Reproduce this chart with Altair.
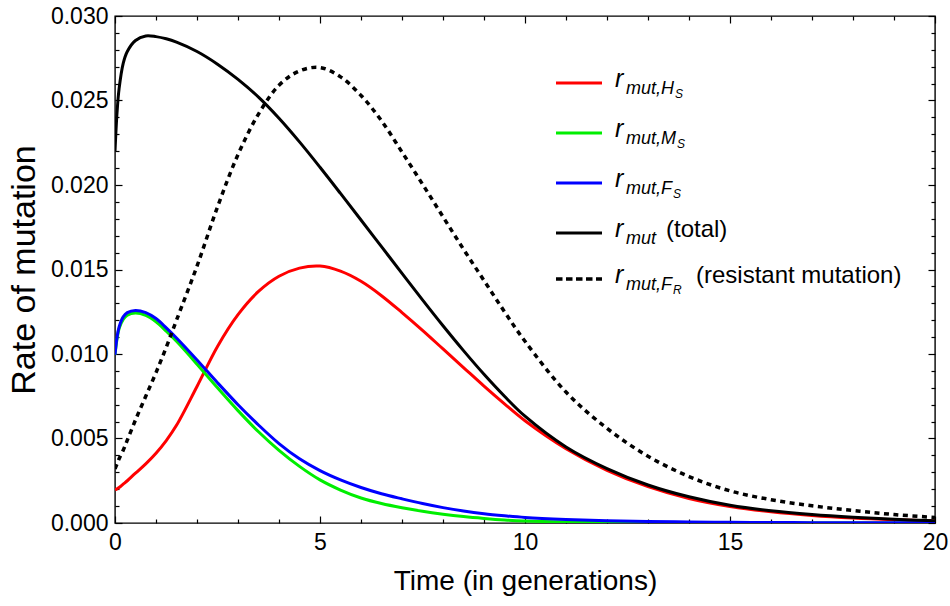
import altair as alt
import pandas as pd

# ---------------- data ----------------
t_vals = [0, 0.05, 0.1, 0.2, 0.3, 0.5, 0.75, 1, 1.25, 1.5,
          2, 2.5, 3, 3.5, 4, 4.5, 5, 5.5, 6, 6.5,
          7, 7.5, 8, 8.5, 9, 9.5, 10,
          11, 12, 13, 14, 15, 16, 17, 18, 19, 20]

r_mut_HS = [0.00195, 0.00202, 0.00210, 0.00230, 0.00250, 0.00295, 0.00350, 0.00413, 0.00488, 0.00578,
            0.00808, 0.01045, 0.01233, 0.01370, 0.01460, 0.01508, 0.01520, 0.01490, 0.01430, 0.01345,
            0.01245, 0.01140, 0.01030, 0.00920, 0.00810, 0.00705, 0.00605,
            0.00440, 0.00312, 0.00215, 0.00145, 0.00098, 0.00066, 0.00044, 0.00029, 0.00019, 0.00012]

r_mut_MS = [0.00995, 0.01090, 0.01150, 0.01205, 0.01230, 0.01242, 0.01228, 0.01190, 0.01135, 0.01075,
            0.00940, 0.00800, 0.00665, 0.00540, 0.00430, 0.00335, 0.00255, 0.00195, 0.00148, 0.00115,
            0.00090, 0.00069, 0.00052, 0.00038, 0.00027, 0.00018, 0.00012,
            0.00006, 0.000035, 0.00002, 0.00001, 0.000007, 0.000005, 0.000003, 0.000002, 0.000001, 0.000001]

r_mut_FS = [0.00995, 0.01100, 0.01160, 0.01220, 0.01245, 0.01258, 0.01245, 0.01210, 0.01155, 0.01095,
            0.00965, 0.00830, 0.00700, 0.00580, 0.00470, 0.00380, 0.00310, 0.00255, 0.00210, 0.00173,
            0.00143, 0.00115, 0.00091, 0.00071, 0.00055, 0.00043, 0.00033,
            0.00021, 0.00013, 0.00009, 0.00006, 0.00004, 0.00003, 0.00002, 0.000015, 0.00001, 0.00001]

r_mut_total = [0.02200, 0.02430, 0.02570, 0.02720, 0.02790, 0.02855, 0.02882, 0.02878, 0.02865, 0.02845,
               0.02790, 0.02715, 0.02625, 0.02520, 0.02395, 0.02255, 0.02105, 0.01950, 0.01793, 0.01635,
               0.01477, 0.01320, 0.01167, 0.01020, 0.00880, 0.00750, 0.00632,
               0.00450, 0.00322, 0.00225, 0.00155, 0.00105, 0.00072, 0.00050, 0.00034, 0.00022, 0.00014]

r_mut_FR = [0.00320, 0.00350, 0.00380, 0.00430, 0.00490, 0.00610, 0.00750, 0.00890, 0.01040, 0.01200,
            0.01520, 0.01870, 0.02180, 0.02420, 0.02590, 0.02675, 0.02695, 0.02640, 0.02530, 0.02380,
            0.02195, 0.02005, 0.01812, 0.01620, 0.01435, 0.01250, 0.01075,
            0.00775, 0.00560, 0.00395, 0.00275, 0.00190, 0.00138, 0.00102, 0.00074, 0.00050, 0.00033]

x_major = [0, 5, 10, 15, 20]
x_minor = [1, 2, 3, 4, 6, 7, 8, 9, 11, 12, 13, 14, 16, 17, 18, 19]
y_major = [0.000, 0.005, 0.010, 0.015, 0.020, 0.025, 0.030]
y_minor = [0.001, 0.002, 0.003, 0.004, 0.006, 0.007, 0.008, 0.009,
           0.011, 0.012, 0.013, 0.014, 0.016, 0.017, 0.018, 0.019,
           0.021, 0.022, 0.023, 0.024, 0.026, 0.027, 0.028, 0.029]

x_title = "Time (in generations)"
y_title = "Rate of mutation"

legend_main = ["r", "r", "r", "r", "r"]
legend_sub = ["mut,H", "mut,M", "mut,F", "mut", "mut,F"]
legend_subsub = ["S", "S", "S", "", "R"]
legend_suffix = ["", "", "", "(total)", "(resistant mutation)"]
legend_colors = ["#ff0000", "#00ee00", "#0000ff", "#000000", "#000000"]

# ---------------- layout / style ----------------
W, H = 820, 507
PAD = {"left": 115, "top": 16, "right": 15, "bottom": 83}
FONT = "Liberation Sans"
LW = 3

leg_line_x = (441, 487)
leg_y = [67, 117, 167, 217, 263]
leg_text_x = 500
sub_x = 511
suffix_x = [0, 0, 0, 551, 581]
italic_w = {"m": .833, "u": .556, "t": .278, ",": .278, "H": .722, "M": .833, "F": .611}
MAIN_SIZE, SUB_SIZE, SUBSUB_SIZE, SUFFIX_SIZE = 25, 18, 12, 24

xscale = alt.Scale(domain=[0, 20], nice=False, zero=False)
yscale = alt.Scale(domain=[0, 0.03], nice=False, zero=False)


def sdf(vals):
    return pd.DataFrame({"t": t_vals, "v": vals})


main_x = alt.X("t:Q", scale=xscale, axis=alt.Axis(
    orient="bottom", values=x_major, format="d", tickSize=0, domain=False, grid=False,
    labelFlush=False, labelPadding=8, labelFontSize=23, labelColor="black", title=x_title,
    titleFontSize=28, titleFontWeight="normal", titleColor="black",
    titleBaseline="middle", titleY=58))
main_y = alt.Y("v:Q", scale=yscale, axis=alt.Axis(
    orient="left", values=y_major, format=".3f", tickSize=0, domain=False, grid=False,
    labelFlush=False, labelPadding=7, labelFontSize=23, labelColor="black", title=y_title,
    titleFontSize=34, titleFontWeight="normal", titleColor="black",
    titleBaseline="middle", titleX=-91))


def line(vals, color, dash=None, x=None, y=None):
    kw = dict(color=color, strokeWidth=LW, interpolate="catmull-rom", clip=True)
    if dash:
        kw["strokeDash"] = dash
        kw["strokeWidth"] = 3.5
        kw["strokeCap"] = "butt"
    return alt.Chart(sdf(vals)).mark_line(**kw).encode(
        x=x if x is not None else alt.X("t:Q", scale=xscale, axis=None),
        y=y if y is not None else alt.Y("v:Q", scale=yscale, axis=None))


def tick_layer(xo, xv, yo, yv, size):
    return alt.Chart(sdf(r_mut_HS)).mark_point(opacity=0).encode(
        x=alt.X("t:Q", scale=xscale, axis=alt.Axis(
            orient=xo, values=xv, tickSize=size, offset=-size, labels=False,
            domain=False, grid=False, title=None, tickColor="black", tickWidth=1.2)),
        y=alt.Y("v:Q", scale=yscale, axis=alt.Axis(
            orient=yo, values=yv, tickSize=size, offset=-size, labels=False,
            domain=False, grid=False, title=None, tickColor="black", tickWidth=1.2)))


layers = [
    line(r_mut_HS, "#ff0000", x=main_x, y=main_y),
    line(r_mut_MS, "#00ee00"),
    line(r_mut_FS, "#0000ff"),
    line(r_mut_total, "#000000"),
    line(r_mut_FR, "#000000", dash=[5, 4.5]),
    tick_layer("bottom", x_major, "left", y_major, 7),
    tick_layer("bottom", x_minor, "left", y_minor, 4),
    tick_layer("top", x_major, "right", y_major, 7),
    tick_layer("top", x_minor, "right", y_minor, 4),
]

# ---------------- legend ----------------
solid_rows = [{"x": leg_line_x[0], "x2": leg_line_x[1], "y": leg_y[i], "c": legend_colors[i]}
              for i in range(4)]
layers.append(alt.Chart(pd.DataFrame(solid_rows)).mark_rule(strokeWidth=LW).encode(
    x=alt.X("x:Q", scale=None, axis=None), x2="x2:Q",
    y=alt.Y("y:Q", scale=None, axis=None), color=alt.Color("c:N", scale=None)))
layers.append(alt.Chart(pd.DataFrame([{"x": leg_line_x[0], "x2": leg_line_x[1], "y": leg_y[4]}]))
              .mark_rule(strokeWidth=3.5, strokeDash=[6.5, 3.5], color="black", strokeCap="butt").encode(
    x=alt.X("x:Q", scale=None, axis=None), x2="x2:Q",
    y=alt.Y("y:Q", scale=None, axis=None)))

italic_rows, normal_rows = [], []
for i in range(5):
    L = leg_y[i]
    italic_rows.append({"x": leg_text_x, "y": L + 4, "text": legend_main[i], "s": MAIN_SIZE})
    italic_rows.append({"x": sub_x, "y": L + 11, "text": legend_sub[i], "s": SUB_SIZE})
    if legend_subsub[i]:
        w = sum(italic_w[ch] for ch in legend_sub[i]) * SUB_SIZE
        italic_rows.append({"x": sub_x + w + 1, "y": L + 15, "text": legend_subsub[i], "s": SUBSUB_SIZE})
    if legend_suffix[i]:
        normal_rows.append({"x": suffix_x[i], "y": L + 4, "text": legend_suffix[i], "s": SUFFIX_SIZE})

for rows, style in [(italic_rows, "italic"), (normal_rows, "normal")]:
    layers.append(alt.Chart(pd.DataFrame(rows)).mark_text(
        align="left", baseline="alphabetic", font=FONT, fontStyle=style, color="black").encode(
        x=alt.X("x:Q", scale=None, axis=None), y=alt.Y("y:Q", scale=None, axis=None),
        text="text:N", size=alt.Size("s:Q", scale=None)))

chart = alt.layer(*layers).resolve_axis(x="independent", y="independent").properties(
    width=W, height=H, autosize=alt.AutoSizeParams(type="none"), padding=PAD
).configure_view(stroke="black", strokeWidth=1.4).configure_axis(
    labelFont=FONT, titleFont=FONT)

chart.save("out.html", embed_options={"renderer": "svg", "actions": False})
